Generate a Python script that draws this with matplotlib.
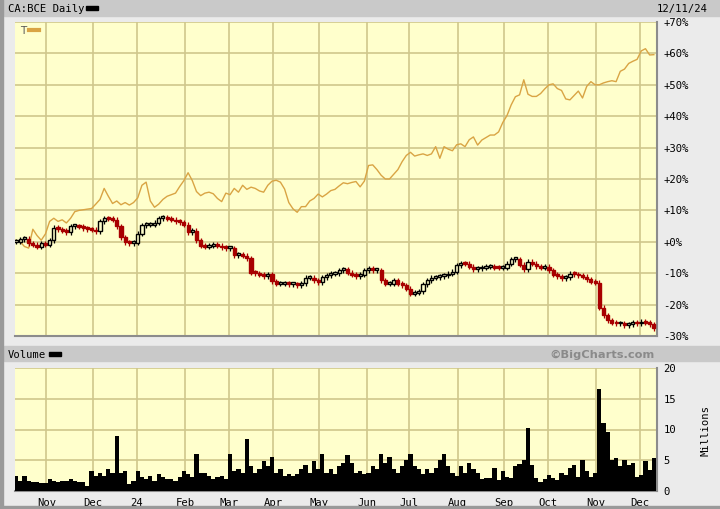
import matplotlib
matplotlib.use('AGG')

import numpy as np
import pandas as pd
import matplotlib.pyplot as plt
from matplotlib.patches import Rectangle


# trading days shown on the chart
days = pd.bdate_range('2023-10-11', '2024-12-11')

# BCE close, % change, one value per two trading days
bce = [0.0, 0.8, 1.0, -0.5, -1.0, -1.5, -0.5, -1.0, 0.5, 4.5,
       4.0, 3.5, 3.0, 5.0, 5.0, 4.8, 4.3, 4.0, 3.8, 3.3,
       6.5, 7.5, 7.3, 7.0, 5.0, 1.5, -0.2, -0.5, -0.3, 2.5,
       5.3, 5.5, 5.5, 6.0, 7.5, 7.8, 7.3, 7.0, 6.5, 6.3,
       5.5, 3.0, 3.5, 0.5, -1.3, -1.5, -1.3, -1.0, -1.3, -1.8,
       -2.0, -2.0, -4.3, -4.0, -4.5, -5.3, -9.8, -10.0, -10.5, -11.0,
       -10.3, -12.5, -13.3, -13.3, -13.3, -13.5, -13.5, -13.8, -13.2, -11.5,
       -11.5, -12.2, -12.8, -11.3, -10.6, -10.2, -10.0, -9.0, -8.8, -9.8,
       -10.5, -11.0, -10.5, -9.0, -8.5, -9.0, -9.0, -12.3, -13.3, -13.3,
       -12.3, -13.3, -13.8, -15.0, -16.5, -16.3, -15.8, -13.5, -12.3, -11.5,
       -11.3, -11.0, -10.7, -10.2, -9.5, -7.5, -6.8, -7.0, -8.0, -8.7,
       -8.5, -8.3, -8.0, -8.0, -8.2, -8.3, -8.3, -7.0, -5.5, -5.5,
       -7.3, -8.8, -6.3, -7.0, -7.8, -8.2, -8.0, -9.0, -10.5, -11.0,
       -11.6, -11.3, -10.2, -10.3, -10.7, -11.2, -12.0, -12.7, -13.0, -21.0,
       -23.4, -25.0, -25.8, -26.0, -26.0, -26.6, -26.3, -25.8, -26.0, -25.5,
       -25.8, -26.3, -27.5]

# T (comparison), % change
att = [0.5, 0.0, -1.5, -2.0, 4.0, 2.0, 0.5, 2.5, 6.5, 7.5,
       6.5, 7.0, 6.0, 7.5, 9.6, 10.0, 10.2, 10.4, 10.6, 12.0,
       13.5, 17.0, 14.5, 12.2, 13.0, 11.8, 12.5, 11.7, 12.5, 14.0,
       18.0, 19.0, 13.0, 11.0, 12.0, 13.5, 14.5, 15.0, 15.5, 17.6,
       19.5, 22.0, 19.5, 16.0, 14.7, 15.5, 15.8, 15.3, 13.8, 12.8,
       15.5, 15.0, 17.0, 15.8, 18.0, 16.7, 17.4, 17.0, 16.2, 15.8,
       18.0, 19.3, 19.6, 19.0, 16.8, 12.5, 10.5, 9.4, 11.2, 11.2,
       13.0, 13.8, 15.2, 14.3, 15.2, 16.3, 16.7, 17.8, 18.8, 18.5,
       18.9, 19.2, 17.5, 19.3, 24.3, 24.5, 23.0, 21.2, 20.0, 20.0,
       21.5, 23.0, 25.5, 27.5, 28.5, 27.3, 27.7, 28.0, 27.5, 28.0,
       30.3, 26.6, 30.3, 29.5, 29.0, 30.9, 31.2, 30.3, 32.5, 33.4,
       30.8, 32.4, 33.2, 34.0, 34.0, 35.0, 38.0, 40.2, 43.6, 46.2,
       46.8, 51.6, 47.0, 46.3, 46.3, 47.2, 48.7, 50.0, 50.3, 48.8,
       48.2, 45.5, 45.2, 46.6, 48.0, 45.8, 49.5, 51.0, 50.0, 50.0,
       50.6, 51.0, 51.3, 51.0, 54.3, 55.0, 56.8, 57.5, 58.1, 60.8,
       61.5, 59.5, 59.6]

# BCE volume, millions
volume = [2.5, 1.6, 2.4, 1.6, 1.4, 1.4, 1.3, 1.3, 1.9, 1.6,
          1.5, 1.6, 1.6, 1.9, 1.6, 1.4, 1.4, 0.8, 3.3, 2.4,
          3.0, 2.4, 3.5, 3.0, 9.0, 3.0, 3.3, 1.1, 1.6, 3.3,
          2.2, 1.9, 2.4, 1.6, 2.7, 2.2, 1.9, 1.9, 1.6, 2.2,
          3.3, 2.7, 2.2, 6.0, 3.0, 3.0, 2.4, 1.9, 2.2, 2.4,
          1.9, 6.0, 3.3, 3.5, 3.0, 8.5, 4.0, 3.0, 3.5, 4.8,
          4.0, 5.5, 3.0, 3.5, 2.5, 2.8, 2.5, 2.8, 3.5, 4.2,
          3.0, 4.8, 3.5, 6.0, 3.0, 3.5, 2.8, 4.0, 4.5, 5.8,
          4.5, 3.0, 3.2, 2.8, 3.0, 4.0, 3.5, 6.0, 4.5, 5.5,
          3.5, 3.0, 4.0, 5.0, 6.0, 4.0, 3.5, 2.8, 3.5, 3.0,
          3.8, 5.0, 6.0, 4.0, 3.0, 2.5, 4.0, 3.0, 4.5, 3.5,
          3.0, 2.0, 2.1, 2.1, 3.7, 1.8, 3.2, 2.3, 2.1, 4.0,
          4.4, 5.1, 10.3, 4.3, 2.1, 1.5, 2.0, 2.6, 2.1, 1.8,
          2.9, 2.6, 3.7, 4.3, 2.3, 5.1, 3.2, 2.3, 3.0, 16.6,
          11.0, 9.6, 5.0, 5.4, 4.0, 5.1, 4.3, 4.5, 2.3, 2.6,
          4.8, 3.4, 5.3]

month_names = ['Nov', 'Dec', '24', 'Feb', 'Mar', 'Apr', 'May', 'Jun',
               'Jul', 'Aug', 'Sep', 'Oct', 'Nov', 'Dec']

pct_ticks = [-30, -20, -10, 0, 10, 20, 30, 40, 50, 60, 70]
vol_ticks = [0, 5, 10, 15, 20]

bg = '#FFFFCC'
grid_col = '#CFC78C'
red = '#A80000'
tan = '#D9A444'
mono = 'DejaVu Sans Mono'

n = len(days)
xs = np.arange(len(bce)) * 2 + 0.5

# first trading day of every month after the start
month_pos = [i for i in range(1, n) if days[i].month != days[i - 1].month]

fig = plt.figure(figsize=(7.2, 5.1), dpi=100, facecolor='#EBEBEB')

# header bands and frame
fig.patches.append(Rectangle((4 / 720, 493 / 510), 716 / 720, 16 / 510,
                             transform=fig.transFigure, color='#C9C9C9', zorder=0))
fig.patches.append(Rectangle((4 / 720, 148 / 510), 716 / 720, 15 / 510,
                             transform=fig.transFigure, color='#C9C9C9', zorder=0))
fig.patches.append(Rectangle((0, 0), 3 / 720, 1, transform=fig.transFigure,
                             color='#9A9A9A', zorder=0))
fig.patches.append(Rectangle((0, 0), 1, 3 / 510, transform=fig.transFigure,
                             color='#9A9A9A', zorder=0))

fig.text(8 / 720, 501 / 510, 'CA:BCE Daily', family=mono, fontsize=7.6,
         va='center', ha='left')
fig.patches.append(Rectangle((86 / 720, 499 / 510), 12 / 720, 4 / 510,
                             transform=fig.transFigure, color='black'))
fig.text(708 / 720, 501 / 510, '12/11/24', family=mono, fontsize=7.6,
         va='center', ha='right')

fig.text(8 / 720, 155 / 510, 'Volume', family=mono, fontsize=7.6,
         va='center', ha='left')
fig.patches.append(Rectangle((49 / 720, 153 / 510), 12 / 720, 4 / 510,
                             transform=fig.transFigure, color='black'))
fig.text(655 / 720, 155 / 510, '\u00a9BigCharts.com', family='DejaVu Sans',
         fontsize=8.2, fontweight='bold', color='#8A8A8A', va='center', ha='right')

# price panel
ax = fig.add_axes([15 / 720, 173 / 510, 642 / 720, 314 / 510])
ax.set_facecolor(bg)
ax.set_xlim(0, n)
ax.set_ylim(-30, 70)
ax.set_xticks(month_pos)
ax.set_yticks(pct_ticks)
ax.grid(True, color=grid_col, lw=1.2)
ax.set_axisbelow(True)
ax.tick_params(length=0, labelbottom=False, labelleft=False)
for s in ['top', 'left']:
    ax.spines[s].set_visible(False)
for s in ['right', 'bottom']:
    ax.spines[s].set_color('#8C8C8C')
    ax.spines[s].set_linewidth(1.5)

ax.plot(xs, att, color=tan, lw=1.0, zorder=2)

opens = [bce[0]] + bce[:-1]
for x, o, c in zip(xs, opens, bce):
    lo, hi = min(o, c), max(o, c)
    col = red if c < o else 'black'
    ax.vlines(x, lo - 0.8, hi + 0.8, color=col, lw=0.9, zorder=3)
    ax.bar(x, max(hi - lo, 0.6), bottom=lo, width=1.5,
           facecolor=red if c < o else bg, edgecolor=col, lw=1.0, zorder=4)

for v in pct_ticks:
    ax.text(1.01, (v + 30) / 100, '%+d%%' % v if v else '+0%', transform=ax.transAxes,
            family=mono, fontsize=7.6, va='center', ha='left')

ax.text(0.008, 0.975, 'T', transform=ax.transAxes, family='DejaVu Sans',
        fontsize=7.5, color='#555555', va='center')
ax.plot([0.022, 0.038], [0.975, 0.975], transform=ax.transAxes, color=tan, lw=3)

# volume panel
vax = fig.add_axes([15 / 720, 18 / 510, 642 / 720, 123 / 510])
vax.set_facecolor(bg)
vax.set_xlim(0, n)
vax.set_ylim(0, 20)
vax.set_xticks(month_pos)
vax.set_xticklabels(month_names, family=mono, fontsize=7.6)
vax.set_yticks(vol_ticks)
vax.grid(True, color=grid_col, lw=1.2)
vax.set_axisbelow(True)
vax.tick_params(length=0, pad=4, labelleft=False)
for s in ['top', 'left']:
    vax.spines[s].set_visible(False)
for s in ['right', 'bottom']:
    vax.spines[s].set_color('#8C8C8C')
    vax.spines[s].set_linewidth(1.5)

vax.bar(xs, volume, width=2.0, color='black', zorder=3)

for v in vol_ticks:
    vax.text(1.01, v / 20, str(v), transform=vax.transAxes,
             family=mono, fontsize=7.6, va='center', ha='left')
vax.text(1.075, 0.5, 'Millions', transform=vax.transAxes, family=mono,
         fontsize=7.6, rotation=90, va='center', ha='center')

fig.savefig('out.png', dpi=100, facecolor=fig.get_facecolor())
